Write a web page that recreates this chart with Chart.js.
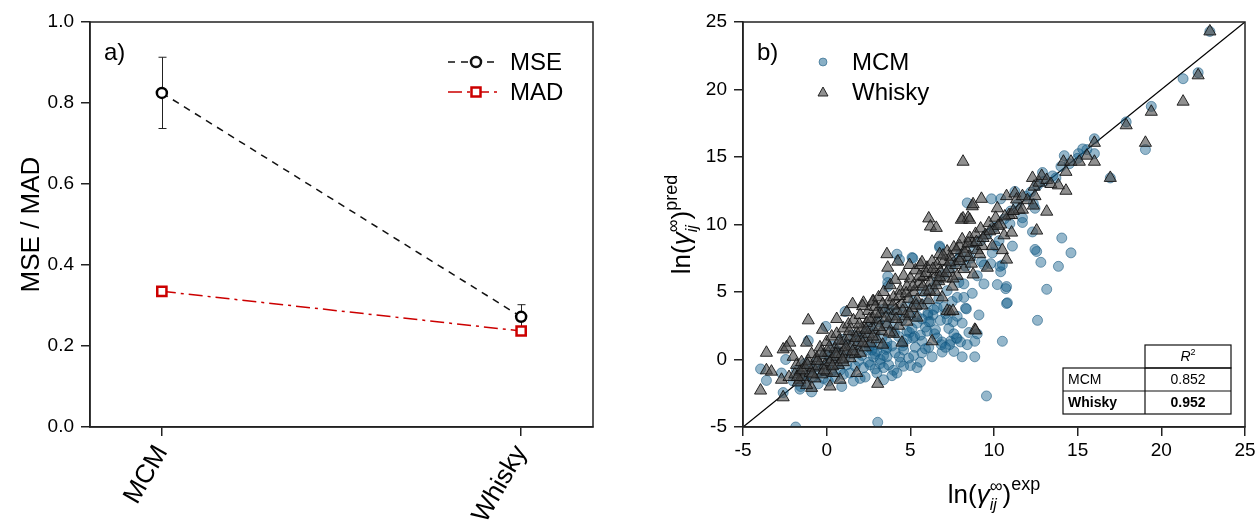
<!DOCTYPE html>
<html>
<head>
<meta charset="utf-8">
<script src="https://cdn.jsdelivr.net/npm/chart.js@4.4.1/dist/chart.umd.min.js"></script>
<style>
  html, body { margin: 0; padding: 0; background: #fff; }
  #wrap { position: relative; width: 1259px; height: 523px; overflow: hidden; }
  #chartA { position: absolute; left: 0; top: 0; }
  #chartB { position: absolute; left: 620px; top: 0; }
</style>
</head>
<body>
<div id="wrap">
  <canvas id="chartA" width="620" height="523"></canvas>
  <canvas id="chartB" width="639" height="523"></canvas>
</div>
<script>
// ---- panel a: error metrics per model ----
const methods = ['MCM', 'Whisky'];
const mse = [0.825, 0.272];
const mseErr = [0.088, 0.030];
const mad = [0.335, 0.237];
const yTicksA = [0, 0.2, 0.4, 0.6, 0.8, 1.0];

// ---- panel b: predicted vs experimental ln(activity coefficient) ----
const axisTicksB = [-5, 0, 5, 10, 15, 20, 25];
const r2Labels = ['MCM', 'Whisky'];
const r2Values = [0.852, 0.952];

const mcmPoints = [
  [-1.85,-5.0],[3.05,-4.65],[9.55,-2.7],[12.6,2.9],[13.15,5.2],[14.6,7.9],[14.05,9.0],[12.55,8.0],
  [12.8,7.2],[13.85,6.9],[12.3,9.45],[11.1,8.4],[10.4,6.5],[10.5,7.0],[10.2,5.55],[10.7,5.25],
  [10.8,4.2],[10.5,1.35],[9.9,7.9],[9.25,7.25],[8.3,3.8],[8.1,2.7],[8.85,1.35],[8.85,0.2],
  [8.1,0.2],[7.8,1.55],[7.4,1.35],[6.9,1.3],[6.9,0.55],[6.45,1.9],[6.0,2.1],[5.7,1.35],
  [5.7,0.5],[5.4,-0.6],[5.0,-0.45],[5.15,1.6],[4.8,2.1],[4.55,1.0],[4.35,0.2],[2.0,-1.4],
  [2.9,-0.7],[3.6,0.2],[-3.95,-0.7],[-3.6,-1.55],[-2.7,-1.0],[-2.6,-2.45],[-2.45,0.0],[-1.1,1.4],
  [-0.05,2.45],[1.1,3.55],[-1.55,-2.0],[6.75,8.4],[4.2,7.8],[5.1,7.55],[3.65,6.15],[3.65,5.7],
  [3.35,3.7],[10.35,6.9],[8.35,3.75],[7.75,1.6],[7.35,1.1],[6.85,1.1],[6.35,3.3],[6.05,3.3],
  [4.95,2.0],[5.25,1.7],[4.55,1.25],[3.75,3.7],[4.05,2.0],[2.55,0.9],[3.15,1.1],[3.55,0.75],
  [19.4,18.75],[17.9,17.6],[19.05,15.55],[16.0,16.35],[16.0,15.25],[15.55,15.55],[15.05,15.25],[14.2,15.1],
  [16.95,13.45],[13.7,13.45],[12.9,13.85],[12.35,11.55],[12.45,11.2],[11.25,12.45],[11.7,10.5],[11.7,10.15],
  [10.95,10.05],[9.85,11.9],[10.4,11.9],[8.4,11.6],[21.3,20.8],[22.2,21.25],[22.9,24.3],[12.45,8.15],
  [6.75,8.3],[5.15,7.5],[3.65,5.4],[4.35,7.4],[10.75,5.4],[10.75,4.15],[6.6,3.85],[7.55,2.8],
  [7.2,2.95],[5.4,3.2],[6.05,3.45],
  [-2.0,-1.6],[-1.8,-0.8],[-1.6,-2.2],[-1.5,-1.2],[-1.3,-0.3],[-1.2,-1.7],[-1.0,-0.7],[-0.9,-2.4],
  [-0.8,-1.3],[-0.6,-0.2],[-0.5,-1.8],[-0.4,-0.9],[-0.2,-1.4],[-0.1,0.4],[0.0,-0.5],[0.1,-1.6],
  [0.2,0.2],[0.3,-0.9],[0.4,1.0],[0.5,-1.3],[0.6,-0.3],[0.7,0.6],[0.8,-0.8],[0.9,1.5],
  [1.0,-1.1],[1.1,0.2],[1.2,-0.4],[1.3,1.1],[1.4,-1.0],[1.5,0.4],[1.6,1.8],[1.7,-0.5],
  [1.8,0.9],[1.9,-0.1],[2.0,1.5],[2.1,0.3],[2.2,-0.6],[2.3,1.9],[2.4,0.7],[2.5,-0.2],
  [2.6,2.4],[2.7,1.2],[2.8,0.2],[2.9,2.0],[3.0,0.6],[3.1,2.8],[3.2,-0.3],[3.3,1.6],
  [3.4,0.3],[3.5,2.5],[3.6,1.3],[3.7,-0.4],[3.8,3.1],[3.9,1.0],[4.0,2.4],[4.1,0.5],
  [4.2,3.5],[4.3,1.7],[4.4,-0.2],[4.5,2.9],[4.6,0.7],[4.7,3.9],[4.8,1.5],[4.9,0.1],
  [5.0,3.3],[5.1,2.3],[5.2,4.3],[5.3,0.9],[5.4,2.7],[5.5,4.0],[5.6,1.8],[5.7,3.0],
  [5.8,5.0],[5.9,2.4],[6.0,4.2],[6.1,0.9],[6.2,2.8],[6.3,5.3],[6.4,3.7],[6.5,2.2],
  [6.6,5.8],[6.7,4.5],[6.8,2.9],[7.0,6.3],[7.1,3.4],[7.2,5.1],[7.3,2.3],[7.4,6.8],
  [7.5,4.3],[7.6,1.9],[7.7,7.2],[7.8,3.2],[7.9,5.7],[8.0,7.8],[8.2,4.6],[8.3,6.9],
  [8.4,1.1],[8.6,7.5],[8.7,4.9],[8.8,8.3],[9.0,6.2],[9.2,8.8],[9.4,5.6],[9.6,9.3],
  [9.8,7.1],[10.0,9.8],[10.3,8.8],[10.6,10.4],[11.0,11.0],[11.4,11.5],[11.9,12.1],[12.2,12.4],
  [12.6,12.9],[13.0,13.2],[13.5,13.6],[14.0,14.3],[14.5,14.5],[15.0,14.9],[15.3,15.6],
  [2.6,-0.4],[2.9,0.4],[3.2,0.0],[3.4,-0.6],[3.6,0.9],[3.0,-1.0],[2.7,0.7],
  [4.0,-0.8],[4.6,-0.5],[5.2,0.3],[5.9,0.8],[6.3,0.2],[6.6,1.6],[7.1,0.9],[7.6,0.6],
  [8.0,1.3],[8.5,2.0],[9.1,3.3],[9.0,1.9],[3.9,-1.2],[2.3,-1.3],[1.6,-1.6],[0.9,-2.0],
  [3.4,-1.5],[4.2,-1.0],[5.6,-0.2],[6.1,2.8],[7.0,3.9],[7.8,4.6],[8.2,5.6],[9.4,7.0],[10.1,8.4]
];

const whiskyPoints = [
  [-3.95,-2.3],[-3.6,0.5],[-3.6,-0.8],[-2.6,-2.8],[-2.6,0.75],[-2.2,1.25],[-2.0,0.2],[-1.1,2.9],
  [0.2,-2.0],[-0.9,-2.1],[-2.7,-1.5],[-2.25,-1.3],[1.55,4.1],[2.8,4.3],[3.05,-1.8],[-2.4,0.9],
  [-3.3,-0.9],[-1.6,-1.5],[0.8,-1.5],[1.8,-1.0],[-1.2,1.25],[-0.25,2.2],[0.6,3.0],[1.2,3.5],
  [-1.9,-1.1],[-1.8,-0.4],[-1.7,-1.7],[-1.6,-0.9],[-1.5,-0.2],[-1.4,-1.3],[-1.3,-0.6],[-1.2,-1.9],
  [-1.1,-0.1],[-1.0,-1.0],[-0.9,0.4],[-0.8,-0.6],[-0.7,-1.4],[-0.6,0.1],[-0.5,-0.5],[-0.4,0.9],
  [-0.3,-1.1],[-0.2,0.3],[-0.1,-0.4],[0.0,1.3],[0.0,-0.9],[0.1,0.5],[0.2,-0.2],[0.3,1.7],
  [0.3,0.0],[0.4,-1.0],[0.5,0.8],[0.6,0.2],[0.6,1.9],[0.7,-0.4],[0.8,1.1],[0.9,0.4],
  [1.0,2.3],[1.0,-0.2],[1.1,1.4],[1.2,0.6],[1.3,2.6],[1.4,0.1],[1.4,1.7],[1.5,1.0],
  [1.6,2.9],[1.7,0.4],[1.8,2.0],[1.9,1.3],[2.0,3.3],[2.0,0.5],
  [2.1,2.3],[2.2,1.6],[2.2,4.2],[2.3,0.9],[2.4,2.7],[2.5,3.6],[2.5,1.9],[2.6,1.2],
  [2.7,3.0],[2.75,4.3],[2.8,2.2],[2.9,3.9],[3.0,1.5],[3.0,2.9],[3.1,4.6],[3.2,3.4],
  [3.3,2.1],[3.35,1.1],[3.4,5.0],[3.5,3.7],[3.6,7.8],[3.6,2.6],[3.7,4.3],[3.8,5.5],
  [3.9,3.2],[4.0,1.9],[4.0,4.6],[4.1,5.9],[4.2,3.6],[4.25,7.25],[4.3,2.5],[4.4,5.1],
  [4.5,4.1],[4.5,1.25],[4.6,6.2],[4.7,3.2],[4.8,5.4],[4.8,2.8],[4.9,4.5],[4.95,7.0],
  [5.0,6.0],[5.1,3.8],[5.2,5.0],[5.3,6.6],[5.4,3.1],[5.4,4.4],[5.5,5.6],[5.6,7.0],
  [5.7,7.2],[5.7,4.0],[5.8,6.1],[5.9,5.0],[6.0,6.8],[6.1,4.4],[6.1,10.45],[6.2,5.7],
  [6.2,9.85],[6.3,7.25],[6.3,1.35],[6.4,6.3],[6.5,5.0],[6.55,9.75],[6.6,7.0],[6.7,5.8],
  [6.75,7.8],[6.8,6.5],[6.9,4.6],[7.0,7.3],[7.1,6.0],[7.2,3.6],[7.2,8.0],[7.3,6.7],
  [7.35,3.55],[7.4,7.6],[7.5,5.4],[7.55,3.6],[7.6,8.3],[7.7,7.0],[7.8,6.2],[7.95,8.4],
  [8.0,7.5],[8.1,8.9],[8.15,10.45],[8.15,14.65],[8.2,6.7],[8.3,8.2],[8.45,10.5],[8.5,7.6],
  [8.55,9.0],[8.7,8.6],[8.75,6.3],[8.85,2.2],[8.9,9.3],[8.9,2.15],[9.0,8.1],[9.2,9.7],
  [9.25,11.9],[9.3,8.4],[9.5,9.2],[9.7,10.1],[9.9,8.4],[10.0,9.6],[10.1,10.5],[10.2,11.2],
  [10.4,10.0],[10.5,8.1],[10.6,9.2],[10.75,7.4],[10.75,12.1],[10.9,10.7],[11.05,9.4],[11.05,10.7],
  [11.25,12.3],[11.35,11.85],[11.5,11.1],[11.7,12.1],[11.7,11.1],[12.0,11.8],[12.3,13.45],[12.35,11.4],
  [12.4,12.8],[12.45,12.1],[12.55,9.55],[12.7,13.1],[12.85,13.6],[13.15,13.3],[13.15,10.95],[13.4,13.0],
  [13.85,12.9],[14.15,14.65],[14.3,13.9],[14.3,12.5],[14.6,14.65],[15.1,14.65],[15.55,15.1],[16.0,16.05],
  [16.0,14.65],[16.95,13.45],[17.9,17.35],[19.05,16.05],[19.4,18.35],[21.3,19.1],[22.2,21.05],[22.9,24.3],
  [8.7,11.35],[3.65,6.8],[2.15,3.95],[8.05,10.35],[8.55,10.35],[8.75,11.5],[9.15,7.8],[9.6,6.8],
  [-1.75,-1.3],[-1.45,-0.8],[-1.15,-0.4],[-0.85,-1.1],[-0.55,-0.1],[-0.35,0.5],[-0.15,-0.8],[0.15,0.9],
  [0.35,-0.5],[0.55,0.4],[0.75,1.4],[0.95,0.0],[1.15,0.9],[1.35,2.1],[1.55,0.6],[1.75,1.6],
  [1.95,2.6],[2.15,1.2],[2.35,2.2],[2.55,3.0],[2.75,1.7],[2.95,3.4],[3.15,2.4],[3.35,4.1],
  [3.55,3.1],[3.75,2.0],[3.95,4.0],[4.15,3.0],[4.35,4.7],[4.55,3.6],[4.75,4.9],[4.95,3.4],
  [5.15,5.4],[5.35,4.0],[5.55,6.2],[5.75,5.4],[5.95,6.4],[6.15,5.1],[6.35,6.7],[6.55,5.5],
  [6.75,6.1],[6.95,7.7],[7.15,6.4],[7.35,7.2],[7.55,6.0],[7.75,8.1],[7.95,7.3],[8.25,7.9],
  [8.45,8.6],[8.65,7.1],[8.95,8.7],[9.35,9.0],[9.75,9.5],[10.25,9.9],[10.65,10.6],[11.15,11.0]
];

const FONT = "'Liberation Sans', Arial, Helvetica, sans-serif";
Chart.defaults.font.family = FONT;
Chart.defaults.color = '#000';
const AXIS = '#222';

// box around the plotting area
const framePlugin = {
  id: 'frame',
  afterDatasetsDraw(chart) {
    const { ctx, chartArea: a } = chart;
    ctx.save();
    ctx.strokeStyle = AXIS;
    ctx.lineWidth = 1.5;
    ctx.strokeRect(a.left, a.top, a.right - a.left, a.bottom - a.top);
    ctx.restore();
  }
};

// vertical error bars for the MSE series
const errorBarPlugin = {
  id: 'errorBars',
  beforeDatasetsDraw(chart) {
    const { ctx, scales: { x, y } } = chart;
    ctx.save();
    ctx.strokeStyle = '#222';
    ctx.lineWidth = 1;
    mse.forEach((v, i) => {
      const px = Math.round(x.getPixelForValue(i)) + 0.5;
      const top = y.getPixelForValue(v + mseErr[i]);
      const bot = y.getPixelForValue(v - mseErr[i]);
      ctx.beginPath();
      ctx.moveTo(px, top); ctx.lineTo(px, bot);
      ctx.moveTo(px - 4, top); ctx.lineTo(px + 4, top);
      ctx.moveTo(px - 4, bot); ctx.lineTo(px + 4, bot);
      ctx.stroke();
    });
    ctx.restore();
  }
};

// panel label and legend for panel a
const legendAPlugin = {
  id: 'legendA',
  afterDraw(chart) {
    const { ctx } = chart;
    ctx.save();
    ctx.font = '24px ' + FONT;
    ctx.fillStyle = '#000';
    ctx.textBaseline = 'alphabetic';
    ctx.fillText('a)', 104, 60);
    ctx.textBaseline = 'middle';
    const rows = [
      { ds: chart.data.datasets[0], y: 62 },
      { ds: chart.data.datasets[1], y: 92 }
    ];
    rows.forEach(r => {
      ctx.strokeStyle = r.ds.borderColor;
      ctx.lineWidth = r.ds.borderWidth;
      ctx.setLineDash(r.ds.borderDash);
      ctx.beginPath(); ctx.moveTo(448, r.y); ctx.lineTo(500, r.y); ctx.stroke();
      ctx.setLineDash([]);
      ctx.fillStyle = '#fff';
      ctx.lineWidth = r.ds.pointBorderWidth;
      ctx.beginPath();
      if (r.ds.pointStyle === 'rect') {
        ctx.rect(476 - 4.5, r.y - 4.5, 9, 9);
      } else {
        ctx.arc(476, r.y, r.ds.pointRadius, 0, Math.PI * 2);
      }
      ctx.fill(); ctx.stroke();
      ctx.fillStyle = '#000';
      ctx.fillText(r.ds.label, 510, r.y + 1);
    });
    ctx.restore();
  }
};

new Chart(document.getElementById('chartA'), {
  type: 'line',
  data: {
    datasets: [
      {
        label: 'MSE',
        data: mse.map((v, i) => ({ x: i, y: v })),
        borderColor: '#111',
        borderWidth: 1.5,
        borderDash: [7, 6],
        pointStyle: 'circle',
        pointRadius: 5,
        pointBorderWidth: 2.5,
        pointBorderColor: '#000',
        pointBackgroundColor: '#fff',
        order: 1
      },
      {
        label: 'MAD',
        data: mad.map((v, i) => ({ x: i, y: v })),
        borderColor: '#cc0000',
        borderWidth: 1.5,
        borderDash: [14, 5, 3, 5],
        pointStyle: 'rect',
        pointRadius: 6.5,
        pointBorderWidth: 2.5,
        pointBorderColor: '#cc0000',
        pointBackgroundColor: '#fff',
        order: 0
      }
    ]
  },
  options: {
    responsive: false,
    animation: false,
    layout: { padding: { left: 0, top: 22, right: 27, bottom: 0 } },
    plugins: { legend: { display: false }, tooltip: { enabled: false } },
    scales: {
      x: {
        type: 'linear',
        min: -0.2,
        max: 1.2,
        afterBuildTicks(s) { s.ticks = methods.map((_, i) => ({ value: i })); },
        afterFit(s) { s.height = 96; },
        grid: { display: true, drawOnChartArea: false, drawTicks: true, tickLength: 9, color: AXIS, lineWidth: 1.5 },
        border: { display: true, color: AXIS, width: 1.5 },
        ticks: {
          callback: (v) => methods[v],
          autoSkip: false,
          minRotation: 60,
          maxRotation: 60,
          padding: 4,
          color: '#000',
          font: { size: 26 }
        }
      },
      y: {
        min: 0,
        max: 1,
        afterBuildTicks(s) { s.ticks = yTicksA.map(v => ({ value: v })); },
        afterFit(s) { s.width = 90; },
        grid: { display: true, drawOnChartArea: false, drawTicks: true, tickLength: 9, color: AXIS, lineWidth: 1.5 },
        border: { display: true, color: AXIS, width: 1.5 },
        ticks: { callback: (v) => v.toFixed(1), padding: 7, color: '#000', font: { size: 19 } },
        title: { display: true, text: 'MSE / MAD', color: '#000', font: { size: 26 }, padding: { top: 16, bottom: 0 } }
      }
    }
  },
  plugins: [errorBarPlugin, framePlugin, legendAPlugin]
});

// ---- panel b ----
function drawRich(ctx, parts, cx, cy, angle) {
  ctx.save();
  ctx.translate(cx, cy);
  ctx.rotate(angle);
  ctx.textBaseline = 'alphabetic';
  ctx.textAlign = 'left';
  ctx.fillStyle = '#000';
  const fontOf = p => (p.italic ? 'italic ' : '') + p.size + 'px ' + FONT;
  let total = 0, stackW = 0;
  parts.forEach(p => {
    ctx.font = fontOf(p);
    const w = ctx.measureText(p.s).width;
    if (p.stack) { stackW = w; }
    else { total += Math.max(w, stackW); stackW = 0; }
  });
  let x = -total / 2;
  stackW = 0;
  parts.forEach(p => {
    ctx.font = fontOf(p);
    const w = ctx.measureText(p.s).width;
    ctx.fillText(p.s, x, p.dy || 0);
    if (p.stack) { stackW = w; }
    else { x += Math.max(w, stackW); stackW = 0; }
  });
  ctx.restore();
}

const titleParts = (sup) => [
  { s: 'ln(', size: 26 },
  { s: 'γ', size: 26, italic: true },
  { s: 'ij', size: 16, italic: true, dy: 7, stack: true },
  { s: '∞', size: 18, dy: -11 },
  { s: ')', size: 26 },
  { s: sup, size: 18, dy: -13 }
];

const annotationBPlugin = {
  id: 'annotB',
  afterDraw(chart) {
    const { ctx, chartArea: a } = chart;
    const midX = (a.left + a.right) / 2;
    const midY = (a.top + a.bottom) / 2;
    drawRich(ctx, titleParts('exp'), midX, 503, 0);
    drawRich(ctx, titleParts('pred'), 70, midY, -Math.PI / 2);

    ctx.save();
    ctx.font = '24px ' + FONT;
    ctx.fillStyle = '#000';
    ctx.textBaseline = 'alphabetic';
    ctx.fillText('b)', 137, 60);

    // legend
    ctx.textBaseline = 'middle';
    ctx.beginPath();
    ctx.arc(203, 62, 4, 0, Math.PI * 2);
    ctx.fillStyle = 'rgba(20,95,140,0.5)';
    ctx.fill();
    ctx.strokeStyle = 'rgba(20,85,125,0.55)';
    ctx.lineWidth = 1;
    ctx.stroke();
    ctx.beginPath();
    ctx.moveTo(203, 87); ctx.lineTo(208, 96); ctx.lineTo(198, 96); ctx.closePath();
    ctx.fillStyle = 'rgba(70,70,70,0.6)';
    ctx.fill();
    ctx.strokeStyle = 'rgba(20,20,20,0.9)';
    ctx.stroke();
    ctx.fillStyle = '#000';
    ctx.fillText(chart.data.datasets[1].label, 232, 63);
    ctx.fillText(chart.data.datasets[2].label, 232, 93);

    // R² table
    const xs = [443, 525, 611];
    const ys = [345, 368, 391, 414];
    ctx.fillStyle = '#fff';
    ctx.fillRect(xs[1], ys[0], xs[2] - xs[1], ys[1] - ys[0]);
    ctx.fillRect(xs[0], ys[1], xs[2] - xs[0], ys[3] - ys[1]);
    ctx.strokeStyle = '#111';
    ctx.lineWidth = 1.2;
    ctx.strokeRect(xs[1], ys[0], xs[2] - xs[1], ys[1] - ys[0]);
    ctx.strokeRect(xs[0], ys[1], xs[2] - xs[0], ys[3] - ys[1]);
    ctx.beginPath();
    ctx.moveTo(xs[0], ys[2]); ctx.lineTo(xs[2], ys[2]);
    ctx.moveTo(xs[1], ys[1]); ctx.lineTo(xs[1], ys[3]);
    ctx.stroke();
    ctx.fillStyle = '#000';
    ctx.textBaseline = 'middle';
    const cx2 = (xs[1] + xs[2]) / 2;
    ctx.font = 'italic 14px ' + FONT;
    ctx.textAlign = 'left';
    const rw = ctx.measureText('R').width;
    ctx.fillText('R', cx2 - (rw + 5) / 2, (ys[0] + ys[1]) / 2 + 1);
    ctx.font = '9px ' + FONT;
    ctx.fillText('2', cx2 - (rw + 5) / 2 + rw, (ys[0] + ys[1]) / 2 - 4);
    r2Labels.forEach((lab, i) => {
      const bold = i === 1 ? 'bold ' : '';
      const yy = (ys[i + 1] + ys[i + 2]) / 2 + 1;
      ctx.font = bold + '14px ' + FONT;
      ctx.textAlign = 'left';
      ctx.fillText(lab, xs[0] + 5, yy);
      ctx.textAlign = 'center';
      ctx.fillText(r2Values[i].toFixed(3), cx2, yy);
    });
    ctx.restore();
  }
};

const tickAxisB = (isX) => ({
  min: -5,
  max: 25,
  afterBuildTicks(s) { s.ticks = axisTicksB.map(v => ({ value: v })); },
  afterFit(s) { if (isX) s.height = 96; else s.width = 123; },
  grid: { display: true, drawOnChartArea: false, drawTicks: true, tickLength: 9, color: AXIS, lineWidth: 1.5 },
  border: { display: true, color: AXIS, width: 1.5 },
  ticks: { padding: isX ? 3 : 7, color: '#000', font: { size: 19 }, autoSkip: false, maxRotation: 0 }
});

new Chart(document.getElementById('chartB'), {
  type: 'scatter',
  data: {
    datasets: [
      {
        label: 'y = x',
        type: 'line',
        data: [{ x: axisTicksB[0], y: axisTicksB[0] }, { x: axisTicksB[axisTicksB.length - 1], y: axisTicksB[axisTicksB.length - 1] }],
        borderColor: '#000',
        borderWidth: 1.3,
        pointRadius: 0,
        fill: false,
        order: 3
      },
      {
        label: 'MCM',
        data: mcmPoints.map(([x, y]) => ({ x, y })),
        pointStyle: 'circle',
        pointRadius: 5,
        backgroundColor: 'rgba(20,95,140,0.45)',
        borderColor: 'rgba(20,85,125,0.55)',
        borderWidth: 1,
        order: 2
      },
      {
        label: 'Whisky',
        data: whiskyPoints.map(([x, y]) => ({ x, y })),
        pointStyle: 'triangle',
        pointRadius: 7,
        backgroundColor: 'rgba(70,70,70,0.6)',
        borderColor: 'rgba(20,20,20,0.9)',
        borderWidth: 1,
        order: 1
      }
    ]
  },
  options: {
    responsive: false,
    animation: false,
    layout: { padding: { left: 0, top: 22, right: 14, bottom: 0 } },
    plugins: { legend: { display: false }, tooltip: { enabled: false } },
    scales: { x: tickAxisB(true), y: tickAxisB(false) }
  },
  plugins: [framePlugin, annotationBPlugin]
});
</script>
</body>
</html>
